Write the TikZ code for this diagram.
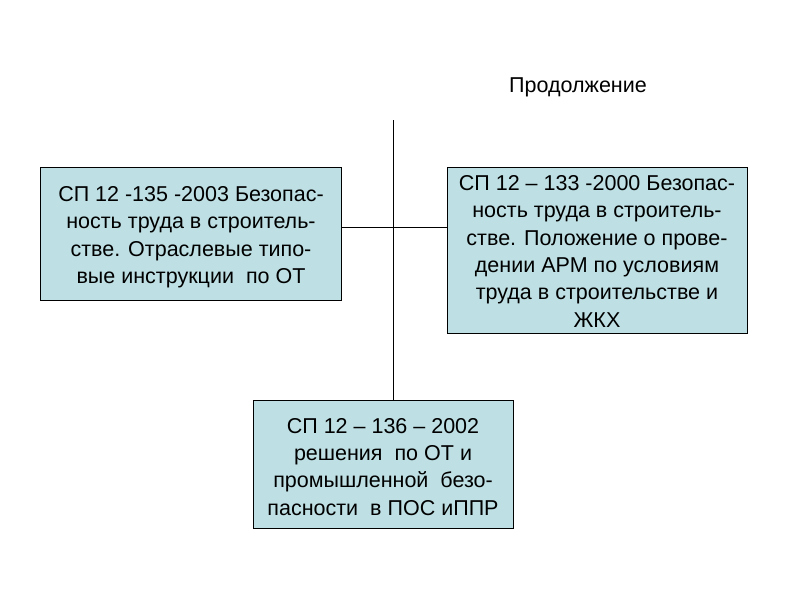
\documentclass[tikz,border=0pt]{standalone}
\usepackage{fontspec}
\setmainfont{Liberation Sans}
\definecolor{boxfill}{RGB}{190,223,227}
\begin{document}
\begin{tikzpicture}[x=1pt,y=-1pt,
  box/.style={draw=black, line width=0.8pt, fill=boxfill, align=center,
    font=\fontsize{21.5}{27.3}\selectfont, inner sep=0pt, text depth=0pt},
  conn/.style={draw=black, line width=0.8pt}]
\useasboundingbox (0,0) rectangle (800,600);
\fill[white] (0,0) rectangle (800,600);
\node[font=\fontsize{21.5}{26}\selectfont, anchor=base] (title) at (578,92.5) {Продолжение};
\coordinate (vtop) at (393,120);
\coordinate (hy) at (393,227);
\node[box, minimum width=301, minimum height=133, text height=100pt] (b1) at (191,233.5)
  {СП 12 -135 -2003 Безопас-\\ность труда в строитель-\\стве. Отраслевые типо-\\вые инструкции \ по ОТ};
\node[box, minimum width=300, minimum height=166, text height=154pt] (b2) at (597,250)
  {СП 12 – 133 -2000 Безопас-\\ность труда в строитель-\\стве. Положение о прове-\\дении АРМ по условиям\\труда в строительстве и\\ЖКХ};
\node[box, minimum width=260, minimum height=128, text height=102pt] (b3) at (383,464)
  {СП 12 – 136 – 2002\\решения \ по ОТ и\\промышленной \ безо-\\пасности \ в ПОС иППР};
\draw[conn] (vtop) -- (b3.north -| vtop);
\draw[conn] (b1.east |- hy) -- (b2.west |- hy);
\end{tikzpicture}
\end{document}
